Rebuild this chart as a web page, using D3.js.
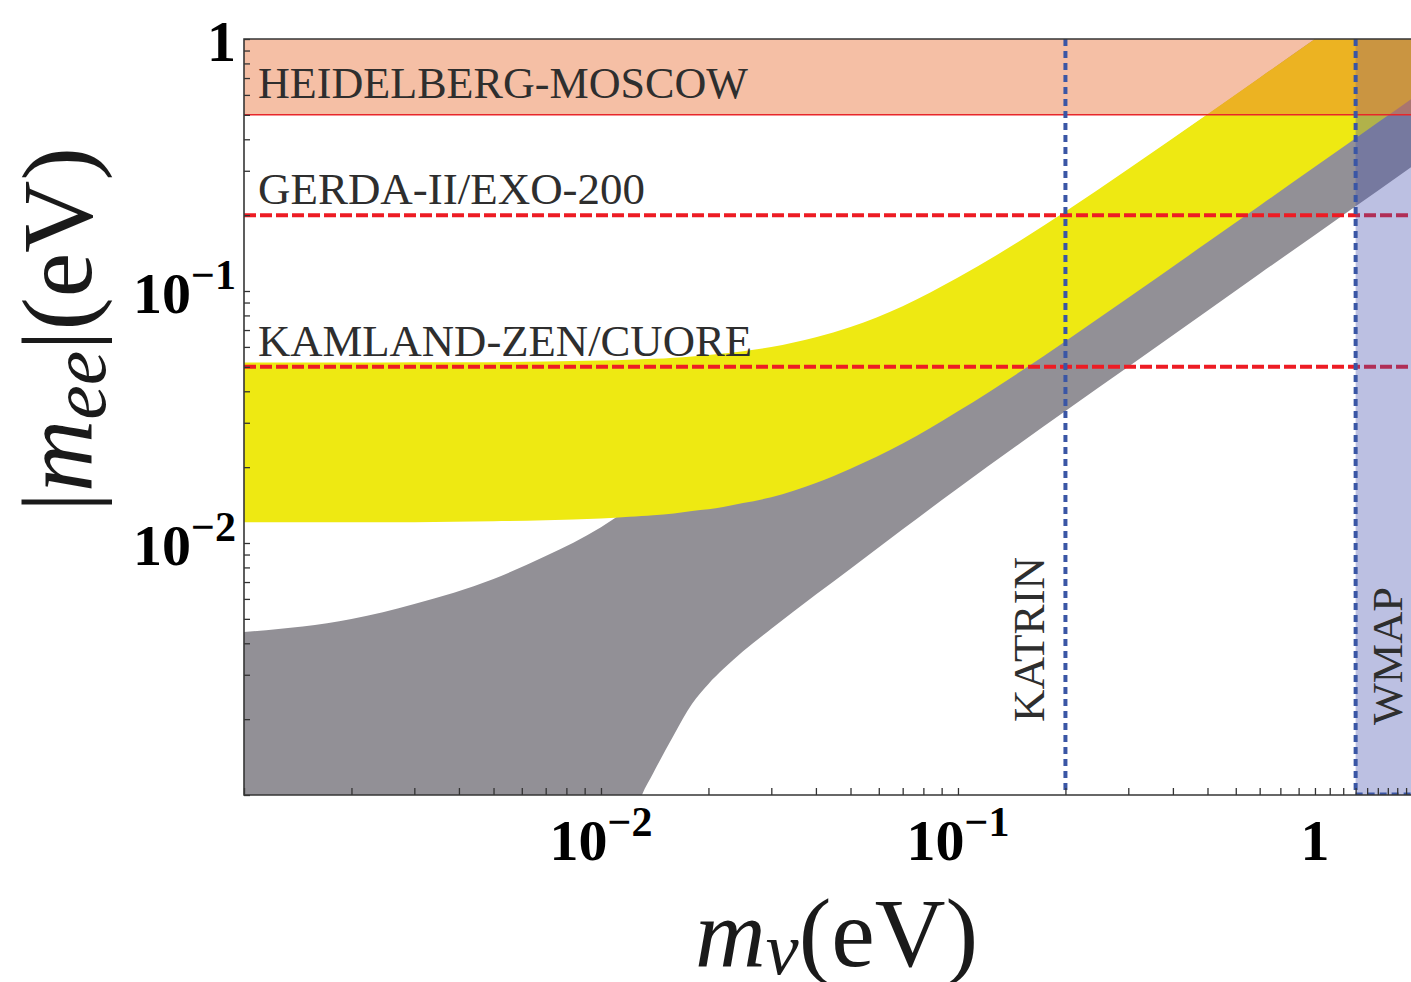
<!DOCTYPE html>
<html>
<head>
<meta charset="utf-8">
<script src="https://cdn.jsdelivr.net/npm/d3@7"></script>
<style>
  html, body { margin: 0; padding: 0; background: #fff; }
  svg { display: block; }
</style>
</head>
<body>
<svg id="chart" width="1411" height="982"></svg>
<script>
const WIDTH = 1411;
const HEIGHT = 982;
const SERIF = "'Liberation Serif', 'Times New Roman', serif";

// lightest neutrino mass m_nu (eV)
const massGrid = [0.001, 0.002, 0.003, 0.005, 0.007, 0.01, 0.012, 0.013, 0.014, 0.016, 0.018,
  0.02, 0.022, 0.025, 0.03, 0.04, 0.05, 0.07, 0.1, 0.15, 0.2, 0.3, 0.5, 0.7, 1, 1.5, 2];

// inverted hierarchy |m_ee| range (yellow)
const ihUpper = [0.052, 0.052, 0.0521, 0.0522, 0.0525, 0.053, 0.0534, 0.0536, 0.0538, 0.0544, 0.055,
  0.0557, 0.0565, 0.0577, 0.06, 0.0656, 0.072, 0.087, 0.113, 0.159, 0.207, 0.305, 0.503, 0.702, 1.0, 1.5, 2.0];
const ihLower = [0.0121, 0.0121, 0.0121, 0.0122, 0.0123, 0.0125, 0.0127, 0.0128, 0.0129, 0.0131, 0.0134,
  0.0136, 0.0139, 0.0144, 0.0152, 0.0173, 0.0197, 0.0248, 0.0333, 0.048, 0.0632, 0.094, 0.156, 0.218, 0.311, 0.466, 0.621];

// normal hierarchy |m_ee| range (gray)
const nhUpper = [0.00443, 0.00499, 0.00573, 0.0072, 0.00888, 0.01156, 0.01377, 0.015, 0.0161, 0.0185, 0.0208,
  0.0234, 0.0256, 0.0294, 0.0354, 0.0465, 0.0573, 0.078, 0.105, 0.153, 0.203, 0.302, 0.5, 0.7, 1.0, 1.5, 2.0];
const nhLower = [0.0001, 0.0001, 0.0001, 0.0001, 0.0001, 0.0001, 0.00071, 0.000994, 0.00122, 0.00173, 0.0023,
  0.00276, 0.00316, 0.00372, 0.00457, 0.00624, 0.0079, 0.01133, 0.0165, 0.025, 0.0334, 0.05, 0.0835, 0.117, 0.167, 0.25, 0.334];

// experimental limits
const hmBand = [0.5, 1];
const hLimits = [
  { name: "GERDA-II/EXO-200", value: 0.2, width: 387 },
  { name: "KAMLAND-ZEN/CUORE", value: 0.05, width: 494 },
];
const katrinLimit = 0.2;
const wmapLimit = 1.3;

// tick labels
const xTickLabels = [
  { v: 0.01, base: "10", exp: "\u22122" },
  { v: 0.1, base: "10", exp: "\u22121" },
  { v: 1, base: "1", exp: null },
];
const yTickLabels = [
  { v: 1, base: "1", exp: null },
  { v: 0.1, base: "10", exp: "\u22121" },
  { v: 0.01, base: "10", exp: "\u22122" },
];
const xExtraTicks = [1.1, 1.2, 1.3, 1.4, 1.5, 1.6, 1.7, 1.8];

const plot = { left: 244, top: 39, right: 1412, bottom: 795 };

const x = d3.scaleLog().domain([0.001, 1.87]).range([plot.left, plot.right]);
const y = d3.scaleLog().domain([0.001, 1]).range([plot.bottom, plot.top]);

const svg = d3.select("#chart");

const defs = svg.append("defs");
defs.append("clipPath").attr("id", "plot-area")
  .append("rect")
  .attr("x", plot.left).attr("y", plot.top)
  .attr("width", plot.right - plot.left).attr("height", plot.bottom - plot.top);
defs.append("clipPath").attr("id", "plot-area-wide")
  .append("rect")
  .attr("x", plot.left - 3).attr("y", plot.top)
  .attr("width", plot.right - plot.left + 3).attr("height", plot.bottom - plot.top);

const bands = svg.append("g").attr("clip-path", "url(#plot-area)");

const area = d3.area()
  .x((d) => x(d.m))
  .y0((d) => y(d.lo))
  .y1((d) => y(d.hi))
  .curve(d3.curveMonotoneX);

const nhRows = massGrid.map((m, i) => ({ m, lo: nhLower[i], hi: nhUpper[i] }));
const ihRows = massGrid.map((m, i) => ({ m, lo: ihLower[i], hi: ihUpper[i] }));

bands.append("path")
  .attr("d", area(nhRows))
  .attr("fill", "#929096");

svg.append("path")
  .attr("clip-path", "url(#plot-area-wide)")
  .attr("d", area(ihRows))
  .attr("fill", "#eee912");

const overlay = svg.append("g").attr("clip-path", "url(#plot-area)");

overlay.selectAll(".h-limit")
  .data(hLimits)
  .enter()
  .append("line")
  .attr("class", "h-limit")
  .attr("x1", plot.left)
  .attr("x2", plot.right)
  .attr("y1", (d) => y(d.value))
  .attr("y2", (d) => y(d.value))
  .attr("stroke", "#ed1c24")
  .attr("stroke-width", 4)
  .attr("stroke-dasharray", "12,4");

overlay.append("rect")
  .attr("x", x(wmapLimit))
  .attr("y", plot.top)
  .attr("width", plot.right - x(wmapLimit))
  .attr("height", plot.bottom - plot.top)
  .attr("fill", "rgb(70,80,175)")
  .attr("fill-opacity", 0.36);

overlay.append("rect")
  .attr("x", plot.left)
  .attr("y", y(hmBand[1]))
  .attr("width", plot.right - plot.left)
  .attr("height", y(hmBand[0]) - y(hmBand[1]))
  .attr("fill", "rgb(233,113,55)")
  .attr("fill-opacity", 0.45);

overlay.append("line")
  .attr("x1", plot.left)
  .attr("x2", plot.right)
  .attr("y1", y(hmBand[0]))
  .attr("y2", y(hmBand[0]))
  .attr("stroke", "#e8262a")
  .attr("stroke-width", 1.5);

overlay.selectAll(".v-limit")
  .data([katrinLimit, wmapLimit])
  .enter()
  .append("line")
  .attr("class", "v-limit")
  .attr("x1", (d) => x(d))
  .attr("x2", (d) => x(d))
  .attr("y1", plot.top)
  .attr("y2", plot.bottom)
  .attr("stroke", "#3a56a5")
  .attr("stroke-width", 4)
  .attr("stroke-dasharray", "7,5");

overlay.append("line")
  .attr("x1", x(wmapLimit))
  .attr("x2", plot.right)
  .attr("y1", plot.bottom - 1)
  .attr("y2", plot.bottom - 1)
  .attr("stroke", "#3a56a5")
  .attr("stroke-width", 3)
  .attr("stroke-dasharray", "7,5");

// axes with inward ticks
const decades = [0.001, 0.01, 0.1];
const minorTicks = [];
decades.forEach((p) => {
  for (let k = 1; k <= 9; k++) minorTicks.push(k * p);
});
minorTicks.push(1);

const xAxis = svg.append("g")
  .attr("transform", `translate(0, ${plot.bottom})`)
  .call(d3.axisBottom(x).tickValues(minorTicks.concat(xExtraTicks)).tickSize(-7).tickFormat(""));

const yAxis = svg.append("g")
  .attr("transform", `translate(${plot.left}, 0)`)
  .call(d3.axisLeft(y).tickValues(minorTicks).tickSize(-6).tickFormat(""));

[xAxis, yAxis].forEach((g) => {
  g.select(".domain").remove();
  g.selectAll(".tick line").attr("stroke", "#333").attr("stroke-width", 1.3);
});

svg.append("path")
  .attr("d", `M${plot.right},${plot.top}H${plot.left}V${plot.bottom}H${plot.right}`)
  .attr("fill", "none")
  .attr("stroke", "#363636")
  .attr("stroke-width", 1.6);

// tick labels
function tickLabel(sel, d) {
  sel.append("tspan").text(d.base);
  if (d.exp) {
    sel.append("tspan")
      .attr("font-size", 42)
      .attr("dy", -24)
      .text(d.exp);
  }
}

xTickLabels.forEach((d) => {
  const t = svg.append("text")
    .attr("x", x(d.v))
    .attr("y", 860)
    .attr("text-anchor", "middle")
    .attr("font-family", SERIF)
    .attr("font-weight", "bold")
    .attr("font-size", 58)
    .attr("fill", "#000");
  tickLabel(t, d);
});

yTickLabels.forEach((d) => {
  const t = svg.append("text")
    .attr("x", 236)
    .attr("y", Math.max(y(d.v) + 22, 55))
    .attr("text-anchor", "end")
    .attr("font-family", SERIF)
    .attr("font-weight", "bold")
    .attr("font-size", 58)
    .attr("fill", "#000");
  tickLabel(t, d);
});

// limit labels
svg.append("text")
  .attr("x", 258)
  .attr("y", 98)
  .attr("font-family", SERIF)
  .attr("font-size", 44)
  .attr("fill", "#2e2e2e")
  .attr("textLength", 490)
  .attr("lengthAdjust", "spacingAndGlyphs")
  .text("HEIDELBERG-MOSCOW");

svg.selectAll(".h-label")
  .data(hLimits)
  .enter()
  .append("text")
  .attr("class", "h-label")
  .attr("x", 258)
  .attr("y", (d) => y(d.value) - 11)
  .attr("font-family", SERIF)
  .attr("font-size", 44)
  .attr("fill", "#2e2e2e")
  .attr("textLength", (d) => d.width)
  .attr("lengthAdjust", "spacingAndGlyphs")
  .text((d) => d.name);

svg.append("text")
  .attr("transform", `translate(${x(katrinLimit) - 21}, 722) rotate(-90)`)
  .attr("font-family", SERIF)
  .attr("font-size", 44)
  .attr("fill", "#2e2e2e")
  .attr("textLength", 165)
  .attr("lengthAdjust", "spacingAndGlyphs")
  .text("KATRIN");

svg.append("text")
  .attr("transform", `translate(${x(wmapLimit) + 46}, 725) rotate(-90)`)
  .attr("font-family", SERIF)
  .attr("font-size", 43)
  .attr("fill", "#2e2e2e")
  .attr("textLength", 138)
  .attr("lengthAdjust", "spacingAndGlyphs")
  .text("WMAP");

// axis titles
const xTitle = svg.append("text")
  .attr("x", 695)
  .attr("y", 966)
  .attr("font-family", SERIF)
  .attr("font-size", 98)
  .attr("fill", "#1a1a1a");
xTitle.append("tspan").attr("font-style", "italic").text("m");
xTitle.append("tspan").attr("font-style", "italic").attr("font-size", 74).attr("dy", 8).text("\u03bd");
xTitle.append("tspan").attr("dy", -8).text("(eV)");

const yTitle = svg.append("text")
  .attr("transform", "translate(91, 512) rotate(-90)")
  .attr("font-family", SERIF)
  .attr("font-size", 100)
  .attr("fill", "#1a1a1a");
yTitle.append("tspan").text("|");
yTitle.append("tspan").attr("font-style", "italic").text("m");
yTitle.append("tspan").attr("font-style", "italic").attr("font-size", 78).attr("dy", 14).text("ee");
yTitle.append("tspan").attr("dy", -14).text("|(eV)");
</script>
</body>
</html>
